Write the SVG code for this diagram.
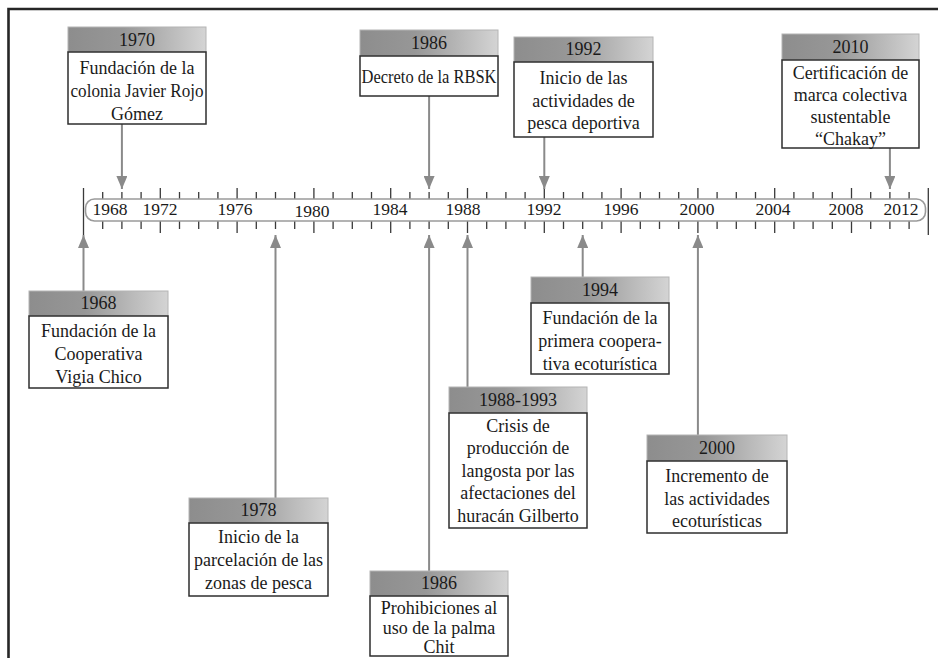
<svg xmlns="http://www.w3.org/2000/svg" width="938" height="658" viewBox="0 0 938 658">
<style>
.band{fill:url(#g);stroke:#b4b4b4;stroke-width:1}
.body{fill:#fff;stroke:#2e2e2e;stroke-width:1.5}
.t{font-family:"Liberation Serif",serif;font-size:18px;text-anchor:middle;fill:#1a1a1a}
.a{font-size:17.5px}
.conn{stroke:#8a8a8a;stroke-width:2;fill:none;marker-end:url(#ah)}
.tick{stroke:#3a3a3a;stroke-width:1.3;fill:none}
</style>
<defs>
<linearGradient id="g" x1="0" y1="0" x2="1" y2="0">
<stop offset="0" stop-color="#8d8d8d"/>
<stop offset="0.4" stop-color="#979797"/>
<stop offset="1" stop-color="#d4d4d4"/>
</linearGradient>
<marker id="ah" markerUnits="userSpaceOnUse" markerWidth="13" markerHeight="11" viewBox="0 0 13 11" refX="13" refY="5.5" orient="auto">
<path d="M0,0 L13,5.5 L0,11 z" fill="#8a8a8a"/>
</marker>
</defs>
<rect width="938" height="658" fill="#fff"/>
<path d="M8.5 658V9H938" fill="none" stroke="#262626" stroke-width="2.6"/>

<g id="axis">
<path class="tick" d="M102.7 192V199M102.7 221V229M121.9 192V199M121.9 221V229M141.1 192V199M141.1 221V229M179.5 192V199M179.5 221V229M198.7 192V199M198.7 221V229M217.9 192V199M217.9 221V229M256.3 192V199M256.3 221V229M275.5 192V199M275.5 221V229M294.7 192V199M294.7 221V229M333.1 192V199M333.1 221V229M352.3 192V199M352.3 221V229M371.5 192V199M371.5 221V229M409.9 192V199M409.9 221V229M429.1 192V199M429.1 221V229M448.3 192V199M448.3 221V229M486.7 192V199M486.7 221V229M505.9 192V199M505.9 221V229M525.1 192V199M525.1 221V229M563.5 192V199M563.5 221V229M582.7 192V199M582.7 221V229M601.9 192V199M601.9 221V229M640.3 192V199M640.3 221V229M659.5 192V199M659.5 221V229M678.7 192V199M678.7 221V229M717.1 192V199M717.1 221V229M736.3 192V199M736.3 221V229M755.5 192V199M755.5 221V229M793.9 192V199M793.9 221V229M813.1 192V199M813.1 221V229M832.3 192V199M832.3 221V229M870.7 192V199M870.7 221V229M889.9 192V199M889.9 221V229M909.1 192V199M909.1 221V229"/>
<path class="tick" d="M160.3 188V199M160.3 221V233M237.1 188V199M237.1 221V233M313.9 188V199M313.9 221V233M390.7 188V199M390.7 221V233M467.5 188V199M467.5 221V233M544.3 188V199M544.3 221V233M621.1 188V199M621.1 221V233M697.9 188V199M697.9 221V233M774.7 188V199M774.7 221V233M851.5 188V199M851.5 221V233"/>
<path class="tick" d="M83.5 188V235M928.3 188V235" stroke-width="1.6"/>
<rect x="85.5" y="199" width="840" height="22" rx="9" fill="#fff" stroke="#9a9a9a" stroke-width="1.6"/>
<text class="t a" x="110" y="215">1968</text>
<text class="t a" x="160" y="215">1972</text>
<text class="t a" x="235" y="215">1976</text>
<text class="t a" x="312" y="217">1980</text>
<text class="t a" x="390" y="215">1984</text>
<text class="t a" x="463" y="215">1988</text>
<text class="t a" x="544" y="215">1992</text>
<text class="t a" x="621" y="215">1996</text>
<text class="t a" x="697" y="215">2000</text>
<text class="t a" x="773" y="215">2004</text>
<text class="t a" x="846" y="215">2008</text>
<text class="t a" x="901" y="215">2012</text>
</g>

<g id="connectors">
<line class="conn" x1="121.9" y1="124" x2="121.9" y2="189"/>
<line class="conn" x1="429.1" y1="96" x2="429.1" y2="189"/>
<line class="conn" x1="544.3" y1="137" x2="544.3" y2="189"/>
<line class="conn" x1="889.9" y1="148" x2="889.9" y2="189"/>
<line class="conn" x1="83.5" y1="291" x2="83.5" y2="235"/>
<line class="conn" x1="275.5" y1="498" x2="275.5" y2="235"/>
<line class="conn" x1="429.1" y1="571" x2="429.1" y2="235"/>
<line class="conn" x1="467.5" y1="387" x2="467.5" y2="235"/>
<line class="conn" x1="582.7" y1="277" x2="582.7" y2="235"/>
<line class="conn" x1="697.9" y1="435" x2="697.9" y2="235"/>
</g>

<g id="n1970">
<rect class="band" x="68" y="27" width="138" height="25"/>
<rect class="body" x="68" y="52" width="138" height="72"/>
<text class="t" x="137" y="46">1970</text>
<text class="t" x="137" y="74">Fundación de la</text>
<text class="t" x="137" y="97" textLength="133" lengthAdjust="spacingAndGlyphs">colonia Javier Rojo</text>
<text class="t" x="137" y="120">Gómez</text>
</g>

<g id="n1986a">
<rect class="band" x="360" y="30" width="138" height="26"/>
<rect class="body" x="360" y="56" width="138" height="40"/>
<text class="t" x="429" y="49">1986</text>
<text class="t" x="429" y="83" textLength="135" lengthAdjust="spacingAndGlyphs">Decreto de la RBSK</text>
</g>

<g id="n1992">
<rect class="band" x="514" y="37" width="139" height="25"/>
<rect class="body" x="514" y="62" width="139" height="75"/>
<text class="t" x="583.5" y="55">1992</text>
<text class="t" x="583.5" y="84">Inicio de las</text>
<text class="t" x="583.5" y="107">actividades de</text>
<text class="t" x="583.5" y="129">pesca deportiva</text>
</g>

<g id="n2010">
<rect class="band" x="782" y="34" width="137" height="26"/>
<rect class="body" x="782" y="60" width="137" height="88"/>
<text class="t" x="850.5" y="53">2010</text>
<text class="t" x="850.5" y="79">Certificación de</text>
<text class="t" x="850.5" y="101">marca colectiva</text>
<text class="t" x="850.5" y="123">sustentable</text>
<text class="t" x="850.5" y="145">“Chakay”</text>
</g>

<g id="n1968">
<rect class="band" x="29" y="291" width="139" height="25"/>
<rect class="body" x="29" y="316" width="139" height="72"/>
<text class="t" x="98.5" y="309">1968</text>
<text class="t" x="98.5" y="337">Fundación de la</text>
<text class="t" x="98.5" y="360">Cooperativa</text>
<text class="t" x="98.5" y="383">Vigia Chico</text>
</g>

<g id="n1994">
<rect class="band" x="531" y="277" width="138" height="26"/>
<rect class="body" x="531" y="303" width="138" height="71"/>
<text class="t" x="600" y="296">1994</text>
<text class="t" x="600" y="324">Fundación de la</text>
<text class="t" x="600" y="347">primera coopera-</text>
<text class="t" x="600" y="370">tiva ecoturística</text>
</g>

<g id="n1988">
<rect class="band" x="449" y="387" width="138" height="26"/>
<rect class="body" x="449" y="413" width="138" height="115"/>
<text class="t" x="518" y="406">1988-1993</text>
<text class="t" x="518" y="432">Crisis de</text>
<text class="t" x="518" y="454">producción de</text>
<text class="t" x="518" y="477">langosta por las</text>
<text class="t" x="518" y="499">afectaciones del</text>
<text class="t" x="518" y="522">huracán Gilberto</text>
</g>

<g id="n2000">
<rect class="band" x="647" y="435" width="140" height="26"/>
<rect class="body" x="647" y="461" width="140" height="72"/>
<text class="t" x="717" y="454">2000</text>
<text class="t" x="717" y="482">Incremento de</text>
<text class="t" x="717" y="505">las actividades</text>
<text class="t" x="717" y="527">ecoturísticas</text>
</g>

<g id="n1978">
<rect class="band" x="189" y="498" width="139" height="25"/>
<rect class="body" x="189" y="523" width="139" height="73"/>
<text class="t" x="258.5" y="516">1978</text>
<text class="t" x="258.5" y="543">Inicio de la</text>
<text class="t" x="258.5" y="566">parcelación de las</text>
<text class="t" x="258.5" y="589">zonas de pesca</text>
</g>

<g id="n1986b">
<rect class="band" x="370" y="571" width="138" height="25"/>
<rect class="body" x="370" y="596" width="138" height="60"/>
<text class="t" x="439" y="589">1986</text>
<text class="t" x="439" y="614">Prohibiciones al</text>
<text class="t" x="439" y="634">uso de la palma</text>
<text class="t" x="439" y="653">Chit</text>
</g>
</svg>
